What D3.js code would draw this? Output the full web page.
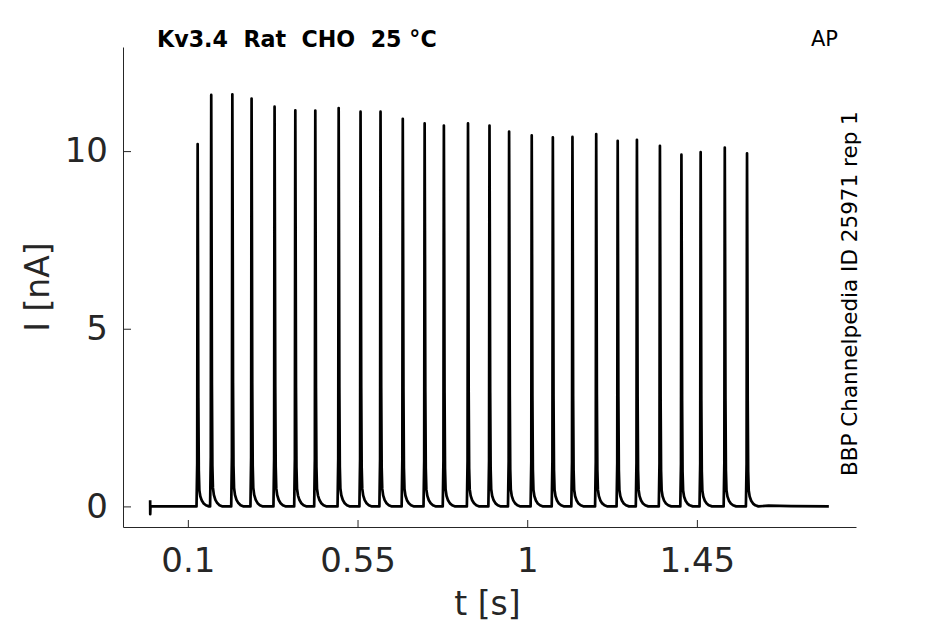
<!DOCTYPE html>
<html lang="en">
<head>
    <meta charset="UTF-8">
    <title>Kv3.4 Rat CHO 25 °C - AP</title>
    <style>
        body { margin: 0; background: #fff; }
        svg { display: block; font-family: "DejaVu Sans", sans-serif; }
        .axis path, .axis line { stroke: #262626; stroke-width: 1px; }
        .axis text { fill: #262626; font-size: 34px; font-family: "DejaVu Sans", sans-serif; }
        .trace { fill: none; stroke: #000; stroke-width: 2.7px; stroke-linejoin: round; }
    </style>
</head>
<body>
    <script src="https://d3js.org/d3.v7.min.js"></script>
    <script>
        // spike peak times (s) and peak currents (nA)
        const spikeTimes = [0.126, 0.162, 0.218, 0.269, 0.330, 0.385, 0.438, 0.500, 0.558,
            0.611, 0.670, 0.728, 0.779, 0.843, 0.900, 0.952, 1.012, 1.068, 1.120,
            1.183, 1.240, 1.291, 1.352, 1.409, 1.460, 1.524, 1.583];
        const spikePeaks = [10.2, 11.58, 11.6, 11.48, 11.25, 11.15, 11.14, 11.21, 11.11,
            11.11, 10.91, 10.78, 10.72, 10.78, 10.72, 10.55, 10.44, 10.39, 10.4,
            10.48, 10.29, 10.32, 10.15, 9.9, 9.97, 10.1, 9.94];

        // one spike: time offset from peak (s) and fraction of the peak
        const shapeDt = [-0.003, -0.0012, -0.0004, 0, 0.0008, 0.0018, 0.003, 0.0045, 0.007, 0.011, 0.016, 0.022, 0.03];
        const shapeFrac = [0, 0.12, 0.8, 1, 0.72, 0.3, 0.1, 0.045, 0.028, 0.016, 0.008, 0.003, 0];

        // start transient and the flat tail after the train
        const onsetT = [0, 0.0002, 0.0008];
        const onsetI = [0.17, -0.22, 0];
        const tailT = [1.64, 1.70, 1.80];
        const tailI = [0.02, 0.01, 0];

        const xTicks = [0.1, 0.55, 1, 1.45];
        const yTicks = [0, 5, 10];
        const xDomain = [-0.072, 1.872];
        const yDomain = [-0.58, 12.93];

        const W = 945, H = 624;
        const margin = {top: 47, right: 89, bottom: 97, left: 123};

        const svg = d3.select("body").append("svg")
            .attr("width", W)
            .attr("height", H);

        const x = d3.scaleLinear().domain(xDomain).range([margin.left, W - margin.right]);
        const y = d3.scaleLinear().domain(yDomain).range([H - margin.bottom, margin.top]);

        // build the trace point list
        const pts = [];
        onsetT.forEach((t, i) => pts.push([t, onsetI[i]]));
        spikeTimes.forEach((t0, k) => {
            const next = k < spikeTimes.length - 1 ? spikeTimes[k + 1] + shapeDt[0] : Infinity;
            shapeDt.forEach((dt, j) => {
                if (t0 + dt < next) pts.push([t0 + dt, spikePeaks[k] * shapeFrac[j]]);
            });
        });
        tailT.forEach((t, i) => pts.push([t, tailI[i]]));

        // axes (ticks inward, no box)
        const xAxis = svg.append("g")
            .attr("class", "axis")
            .attr("transform", `translate(0,${H - margin.bottom})`)
            .call(d3.axisBottom(x).tickValues(xTicks).tickFormat(d3.format("")).tickSizeInner(-7).tickSizeOuter(0).tickPadding(21));
        xAxis.selectAll("text").attr("dy", "0.71em");

        const yAxis = svg.append("g")
            .attr("class", "axis")
            .attr("transform", `translate(${margin.left},0)`)
            .call(d3.axisLeft(y).tickValues(yTicks).tickSizeInner(-8).tickSizeOuter(0).tickPadding(15));

        svg.append("path")
            .datum(pts)
            .attr("class", "trace")
            .attr("d", d3.line().x(d => x(d[0])).y(d => y(d[1])));

        // labels
        svg.append("text")
            .attr("x", (margin.left + W - margin.right) / 2 - 2)
            .attr("y", 615)
            .attr("text-anchor", "middle")
            .attr("fill", "#262626")
            .style("font-size", "33px")
            .text("t [s]");

        svg.append("text")
            .attr("transform", `translate(49,${(margin.top + H - margin.bottom) / 2}) rotate(-90)`)
            .attr("text-anchor", "middle")
            .attr("fill", "#262626")
            .style("font-size", "33px")
            .text("I [nA]");

        svg.append("text")
            .attr("x", 157)
            .attr("y", 47)
            .style("font-size", "22.2px")
            .style("font-weight", "bold")
            .style("white-space", "pre")
            .text("Kv3.4  Rat  CHO  25 °C");

        svg.append("text")
            .attr("x", 811)
            .attr("y", 46)
            .style("font-size", "21px")
            .text("AP");

        svg.append("text")
            .attr("transform", "translate(857,476) rotate(-90)")
            .style("font-size", "21.5px")
            .text("BBP Channelpedia ID 25971 rep 1");
    </script>
</body>
</html>
